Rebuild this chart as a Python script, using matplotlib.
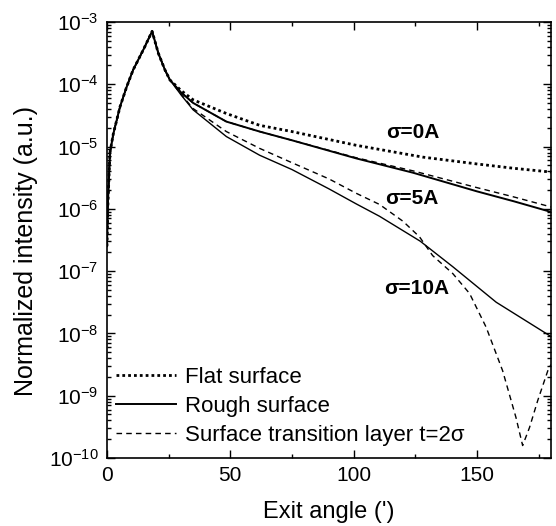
import numpy as np
import matplotlib.pyplot as plt
from matplotlib.ticker import LogLocator, MultipleLocator, LogFormatterSciNotation, NullFormatter

plt.rcParams['font.family'] = ['Liberation Sans', 'DejaVu Sans']
plt.rcParams['mathtext.default'] = 'regular'

# shared part (rise to the critical angle and the first fall), log10 intensity
rise_x = [0, 0.4, 1.2, 2.55, 5.3, 8, 10.6, 14.7, 18.3, 20.8, 23.5, 25.5]
rise_y = [-6.6, -5.9, -5.1, -4.8, -4.36, -4.04, -3.77, -3.45, -3.15, -3.5, -3.77, -3.93]

flat_x = [25.5, 30, 34.9, 48.4, 61.9, 75, 101, 128, 150, 165, 180]
flat_y = [-3.93, -4.1, -4.25, -4.47, -4.66, -4.76, -4.98, -5.17, -5.28, -5.35, -5.41]

rough5_x = [25.5, 30, 34.9, 48.4, 61.9, 75, 101, 124, 150, 165, 180]
rough5_y = [-3.93, -4.13, -4.3, -4.6, -4.76, -4.9, -5.19, -5.42, -5.72, -5.88, -6.05]

layer5_x = [25.5, 30, 34.9, 48.4, 61.9, 75, 101, 124, 150, 165, 180]
layer5_y = [-3.93, -4.13, -4.3, -4.6, -4.76, -4.9, -5.18, -5.39, -5.66, -5.81, -5.97]

rough10_x = [25.5, 30, 34.9, 48.4, 61.9, 75, 90, 101, 110.5, 127, 140.2, 157.8, 178, 180]
rough10_y = [-3.93, -4.17, -4.41, -4.84, -5.14, -5.37, -5.68, -5.92, -6.12, -6.52, -6.93,
             -7.5, -8.0, -8.05]

layer10_x = [25.5, 30, 34.9, 48.4, 61.9, 75, 90, 101, 110.5, 120, 126.7, 132, 140.2, 147,
             153.7, 160.4, 165.8, 168.5, 171.3, 174.6, 178.7, 180]
layer10_y = [-3.93, -4.16, -4.39, -4.76, -5.03, -5.26, -5.52, -5.75, -5.93, -6.2, -6.45,
             -6.75, -7.04, -7.36, -7.9, -8.6, -9.35, -9.8, -9.51, -9.08, -8.6, -8.5]

labels = ['Flat surface', 'Rough surface', 'Surface transition layer t=2σ']
sigma_labels = ['σ=0A', 'σ=5A', 'σ=10A']
sigma_pos = [(113.2, -4.78), (112.8, -5.83), (112.4, -7.28)]


def full(x, y):
    xs = np.array(rise_x[:-1] + x)
    ys = 10.0 ** np.array(rise_y[:-1] + y)
    return xs, ys


fig = plt.figure(figsize=(5.56, 5.26), dpi=100)
ax = fig.add_axes([0.1924, 0.1293, 0.7986, 0.829])

dot = (0, (1, 1.1))
dash = (0, (4, 3))
h1, = ax.plot(*full(flat_x, flat_y), color='black', lw=2.0, ls=dot)
h2, = ax.plot(*full(rough5_x, rough5_y), color='black', lw=1.4)
ax.plot(*full(layer5_x, layer5_y), color='black', lw=1.0, ls=dash)
ax.plot(*full(rough10_x, rough10_y), color='black', lw=1.0)
h3, = ax.plot(*full(layer10_x, layer10_y), color='black', lw=1.0, ls=dash)

for txt, (sx, sy) in zip(sigma_labels, sigma_pos):
    ax.text(sx, 10.0 ** sy, txt, fontsize=15, fontweight='bold', va='center', ha='left')

ax.set_yscale('log')
ax.set_xlim(0, 180)
ax.set_ylim(1e-10, 1e-3)
ax.xaxis.set_major_locator(MultipleLocator(50))
ax.xaxis.set_minor_locator(MultipleLocator(25))
ax.yaxis.set_major_locator(LogLocator(base=10, numticks=20))
ax.yaxis.set_minor_locator(LogLocator(base=10, subs=np.arange(2, 10), numticks=20))
ax.yaxis.set_major_formatter(LogFormatterSciNotation())
ax.yaxis.set_minor_formatter(NullFormatter())
ax.tick_params(which='both', direction='in', top=True, right=True, width=1.0)
ax.tick_params(which='major', length=6, labelsize=15, pad=6)
ax.tick_params(which='minor', length=3)
for s in ax.spines.values():
    s.set_linewidth(1.2)

ax.set_xlabel("Exit angle (')", fontsize=17, labelpad=11)
ax.set_ylabel('Normalized intensity (a.u.)', fontsize=18)
ax.yaxis.set_label_coords(-0.155, 0.475)

ax.legend([h1, h2, h3], labels, loc='lower left', frameon=False, fontsize=16,
          handlelength=2.7, handletextpad=0.4, labelspacing=0.35,
          borderaxespad=0.0, bbox_to_anchor=(0.0, 0.008))

fig.savefig('out.png', dpi=100)
